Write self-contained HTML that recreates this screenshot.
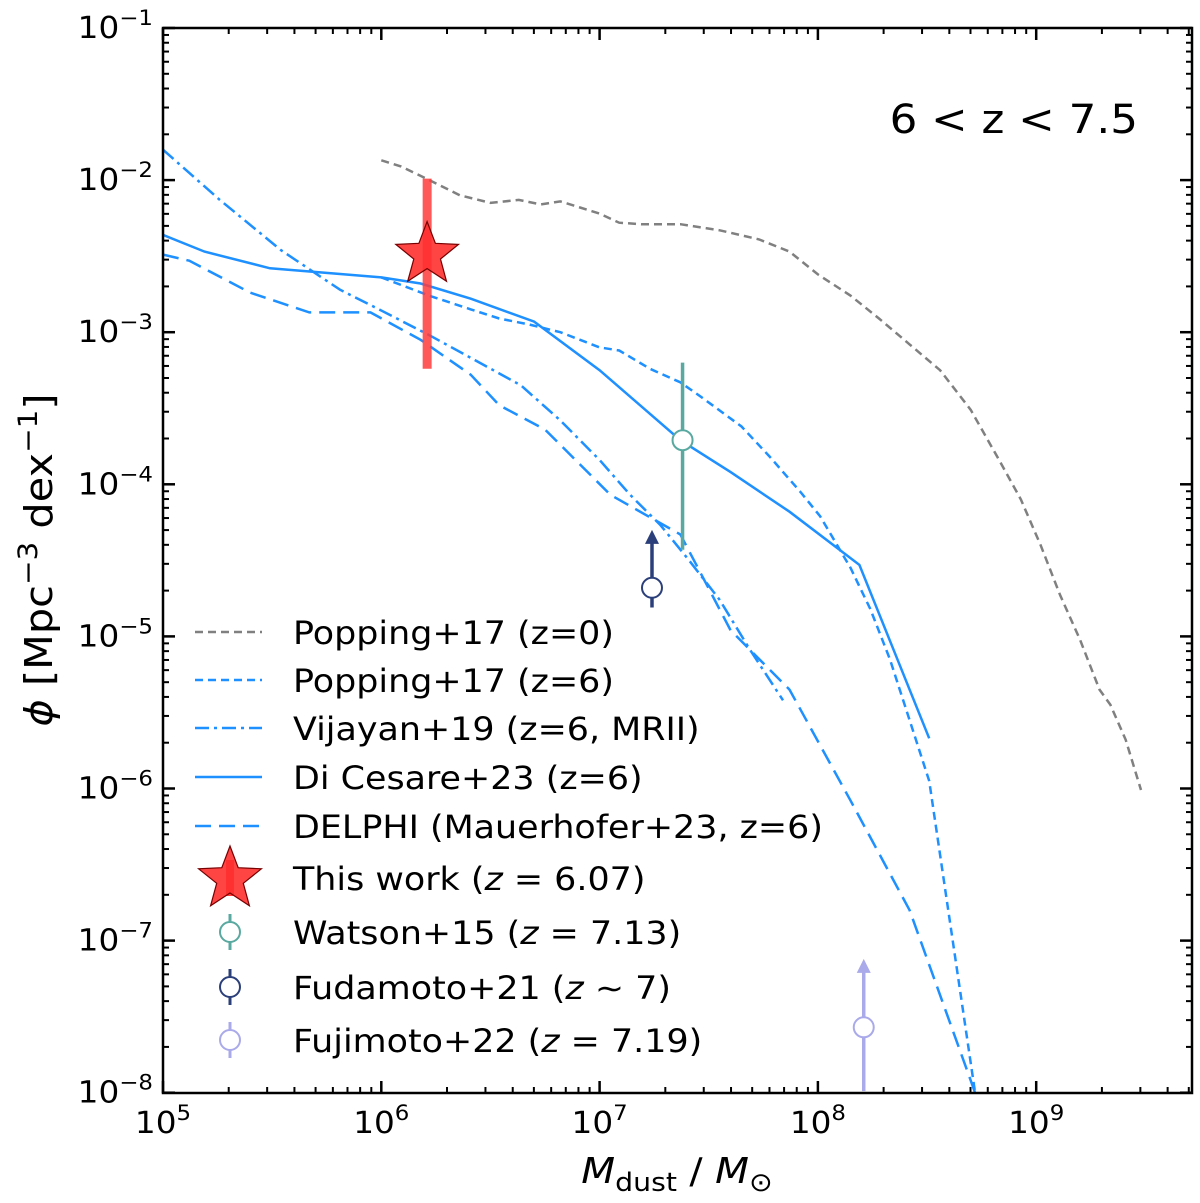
<!DOCTYPE html>
<html><head><meta charset="utf-8"><style>
html,body{margin:0;padding:0;background:#fff;}
svg{display:block;font-family:"DejaVu Sans","Liberation Sans",sans-serif;}
</style></head><body>
<svg id="chart" width="1200" height="1203" viewBox="0 0 1200 1203" xmlns="http://www.w3.org/2000/svg"></svg>
<script>
// ---- data (log10 M_dust, log10 phi) ----
const poppingZ0M = [6.00,6.09,6.22,6.36,6.50,6.63,6.73,6.82,6.91,7.00,7.09,7.19,7.37,7.55,7.73,7.87,8.00,8.15,8.28,8.42,8.56,8.70,8.83,8.93,9.02,9.11,9.20,9.29,9.34,9.41,9.48];
const poppingZ0Phi = [-1.87,-1.91,-2.00,-2.10,-2.15,-2.13,-2.16,-2.14,-2.18,-2.22,-2.28,-2.29,-2.29,-2.33,-2.39,-2.47,-2.62,-2.76,-2.91,-3.08,-3.25,-3.51,-3.84,-4.10,-4.40,-4.73,-5.02,-5.35,-5.45,-5.68,-6.01];
const poppingZ6M = [6.0,6.22,6.41,6.54,6.68,6.82,7.00,7.09,7.23,7.37,7.46,7.65,7.78,7.92,8.01,8.15,8.24,8.33,8.42,8.51,8.72];
const poppingZ6Phi = [-2.64,-2.76,-2.85,-2.91,-2.95,-3.00,-3.10,-3.12,-3.24,-3.33,-3.42,-3.62,-3.82,-4.05,-4.21,-4.55,-4.82,-5.15,-5.55,-5.95,-8.0];
const vijayanM = [5.0,5.26,5.54,5.81,5.99,6.22,6.45,6.64,6.82,7.00,7.14,7.28,7.41,7.55,7.69,7.84];
const vijayanPhi = [-1.80,-2.13,-2.46,-2.72,-2.85,-3.02,-3.20,-3.35,-3.58,-3.84,-4.07,-4.27,-4.50,-4.76,-5.09,-5.42];
const dicesareM = [5.0,5.19,5.49,6.0,6.18,6.41,6.70,7.0,7.37,7.60,7.87,8.19,8.51];
const dicesarePhi = [-2.36,-2.47,-2.58,-2.64,-2.68,-2.78,-2.93,-3.25,-3.71,-3.92,-4.18,-4.53,-5.67];
const delphiM = [5.0,5.12,5.40,5.67,5.95,6.18,6.41,6.54,6.75,7.05,7.37,7.60,7.87,8.15,8.42,8.72];
const delphiPhi = [-2.49,-2.53,-2.74,-2.87,-2.87,-3.05,-3.28,-3.48,-3.64,-4.07,-4.33,-4.96,-5.35,-6.08,-6.80,-8.0];
const thisWork = {m:6.21, phi:-2.49, lo:-3.24, hi:-1.99};
const watson = {m:7.38, phi:-3.71, lo:-4.43, hi:-3.20};
const fudamoto = {m:7.24, phi:-4.68, from:-4.81, to:-4.30};
const fujimoto = {m:8.21, phi:-7.57, from:-7.99, to:-7.12};
const xTickExp = [5,6,7,8,9];
const yTickExp = [-1,-2,-3,-4,-5,-6,-7,-8];

// ---- axes ----
const L=163,R=1192,T=28,B=1093;
const xMin=5, xPerDec=218.3, yTop=-1, yPerDec=152.1;
const X=v=>L+(v-xMin)*xPerDec;
const Y=v=>T+(yTop-v)*yPerDec;
const svg=document.getElementById('chart');
const NS='http://www.w3.org/2000/svg';
function mk(tag,attrs,parent){const e=document.createElementNS(NS,tag);for(const k in attrs)e.setAttribute(k,attrs[k]);(parent||svg).appendChild(e);return e;}
const SX=1.09;
function stretch(t,x){t.setAttribute('transform',`translate(${x} 0) scale(${SX} 1) translate(${-x} 0)`);}
const blue='#1E90FF';
const LW=2.5;

const clip=mk('clipPath',{id:'pc'});mk('rect',{x:L,y:T,width:R-L,height:B-T},clip);

function line(ms,ps,color,dash,name){
  const d=ms.map((m,i)=>(i?'L':'M')+X(m).toFixed(1)+' '+Y(ps[i]).toFixed(1)).join(' ');
  const p=mk('path',{d:d,fill:'none',stroke:color,'stroke-width':LW,'stroke-dasharray':dash,'clip-path':'url(#pc)'});
  
  
}
line(poppingZ0M,poppingZ0Phi,'#808080','8,5','popping17-z0-line');
line(poppingZ6M,poppingZ6Phi,blue,'8,5','popping17-z6-line');
line(vijayanM,vijayanPhi,blue,'14,5,3,5','vijayan19-line');
line(dicesareM,dicesarePhi,blue,'','dicesare23-line');
line(delphiM,delphiPhi,blue,'16,8','delphi-line');

// this work
let e=mk('line',{x1:X(thisWork.m),x2:X(thisWork.m),y1:Y(thisWork.lo),y2:Y(thisWork.hi),stroke:'#ff3b3b','stroke-opacity':0.85,'stroke-width':9});

function starPath(cx,cy,r1,r2){let s='';for(let i=0;i<10;i++){const a=-Math.PI/2+i*Math.PI/5;const r=i%2?r2:r1;s+=(i?'L':'M')+(cx+r*Math.cos(a)).toFixed(1)+' '+(cy+r*Math.sin(a)).toFixed(1);}return s+'Z';}
e=mk('path',{d:starPath(X(thisWork.m),Y(thisWork.phi),33,14),fill:'#ff3030','fill-opacity':0.9,stroke:'#700','stroke-width':1.2});


// watson
e=mk('line',{x1:X(watson.m),x2:X(watson.m),y1:Y(watson.lo),y2:Y(watson.hi),stroke:'#5aa9a0','stroke-width':3.5});

e=mk('circle',{cx:X(watson.m),cy:Y(watson.phi),r:10,fill:'#fff',stroke:'#5aa9a0','stroke-width':2});


function arrow(o,color,name){
  const x=X(o.m),y1=Y(o.from),y2=Y(o.to);
  let a=mk('line',{x1:x,x2:x,y1:y1,y2:y2+10,stroke:color,'stroke-width':3.5});
  
  a=mk('path',{d:`M${x-7} ${y2+14}L${x} ${y2}L${x+7} ${y2+14}Z`,fill:color});
  
  a=mk('circle',{cx:x,cy:Y(o.phi),r:10,fill:'#fff',stroke:color,'stroke-width':2});
  
}
arrow(fudamoto,'#2b3f7a','fudamoto21');
arrow(fujimoto,'#aaaaea','fujimoto22');

// frame
e=mk('rect',{x:L,y:T,width:R-L,height:B-T,fill:'none',stroke:'#000','stroke-width':2.5});


// ticks
xTickExp.forEach(k=>{
  const x=X(k);
  mk('line',{x1:x,x2:x,y1:B,y2:B-12,stroke:'#000','stroke-width':2.5});
  mk('line',{x1:x,x2:x,y1:T,y2:T+12,stroke:'#000','stroke-width':2.5});
  const t=mk('text',{x:x,y:B+40,'font-size':30,'text-anchor':'middle'});
  
  t.innerHTML='10<tspan dy="-13" font-size="21">'+k+'</tspan>';
  stretch(t,x);
});
for(let k=5;k<9.71;k++){for(let j=2;j<10;j++){const v=k+Math.log10(j);if(v>9.71)break;const x=X(v);
  mk('line',{x1:x,x2:x,y1:B,y2:B-6,stroke:'#000','stroke-width':2});
  mk('line',{x1:x,x2:x,y1:T,y2:T+6,stroke:'#000','stroke-width':2});}}
yTickExp.forEach(k=>{
  const y=Y(k);
  mk('line',{x1:L,x2:L+12,y1:y,y2:y,stroke:'#000','stroke-width':2.5});
  mk('line',{x1:R,x2:R-12,y1:y,y2:y,stroke:'#000','stroke-width':2.5});
  const t=mk('text',{x:L-10,y:y+10,'font-size':30,'text-anchor':'end'});
  
  t.innerHTML='10<tspan dy="-13" font-size="21">\u2212'+Math.abs(k)+'</tspan>';
  stretch(t,L-10);
});
for(let k=-8;k<-1;k++){for(let j=2;j<10;j++){const y=Y(k+Math.log10(j));
  mk('line',{x1:L,x2:L+6,y1:y,y2:y,stroke:'#000','stroke-width':2});
  mk('line',{x1:R,x2:R-6,y1:y,y2:y,stroke:'#000','stroke-width':2});}}

// axis labels
e=mk('text',{x:677,y:1183,'font-size':36,'text-anchor':'middle'});

e.innerHTML='<tspan font-style="italic">M</tspan><tspan font-size="26" dy="8">dust</tspan><tspan dy="-8"> / </tspan><tspan font-style="italic">M</tspan><tspan font-size="26" dy="8">⊙</tspan>';
stretch(e,677);
e=mk('text',{x:0,y:0,'font-size':38,'text-anchor':'middle',transform:`translate(52 560) rotate(-90) scale(${SX} 1)`});

e.innerHTML='<tspan font-style="italic">ϕ</tspan> [Mpc<tspan dy="-15" font-size="27">−3</tspan><tspan dy="15"> dex</tspan><tspan dy="-15" font-size="27">−1</tspan><tspan dy="15">]</tspan>';

e=mk('text',{x:1138,y:133,'font-size':40,'text-anchor':'end'});

e.textContent='6 < z < 7.5';
stretch(e,1138);

// legend
const lg=mk('g',{});

function lgText(y,html,name){
  const t=mk('text',{x:293,y:y+12,'font-size':32},lg);
  
  t.innerHTML=html;
  stretch(t,293);
}
function lgLine(y,color,dash,label,name){
  let l=mk('line',{x1:195,x2:262,y1:y,y2:y,stroke:color,'stroke-width':LW,'stroke-dasharray':dash},lg);
  
  lgText(y,label,name);
}
lgLine(632,'#808080','8,5','Popping+17 (z=0)','popping17-z0');
lgLine(680,blue,'8,5','Popping+17 (z=6)','popping17-z6');
lgLine(728,blue,'14,5,3,5','Vijayan+19 (z=6, MRII)','vijayan19');
lgLine(777,blue,'','Di Cesare+23 (z=6)','dicesare23');
lgLine(826,blue,'16,8','DELPHI (Mauerhofer+23, z=6)','delphi');
e=mk('line',{x1:230,x2:230,y1:860,y2:896,stroke:'#ff3b3b','stroke-width':8},lg);

e=mk('path',{d:starPath(230,879,33,14),fill:'#ff3030','fill-opacity':0.9,stroke:'#700','stroke-width':1.2},lg);

lgText(878,'This work (<tspan font-style="italic">z</tspan> = 6.07)','this-work');
[[932,'#5aa9a0','Watson+15 (<tspan font-style="italic">z</tspan> = 7.13)','watson15'],
 [987,'#2b3f7a','Fudamoto+21 (<tspan font-style="italic">z</tspan> ∼ 7)','fudamoto21'],
 [1040,'#aaaaea','Fujimoto+22 (<tspan font-style="italic">z</tspan> = 7.19)','fujimoto22']].forEach(r=>{
  let l=mk('line',{x1:230,x2:230,y1:r[0]-18,y2:r[0]+18,stroke:r[1],'stroke-width':3},lg);
  
  l=mk('circle',{cx:230,cy:r[0],r:10,fill:'#fff',stroke:r[1],'stroke-width':2},lg);
  
  lgText(r[0],r[2],r[3]);
});
</script>
</body></html>
